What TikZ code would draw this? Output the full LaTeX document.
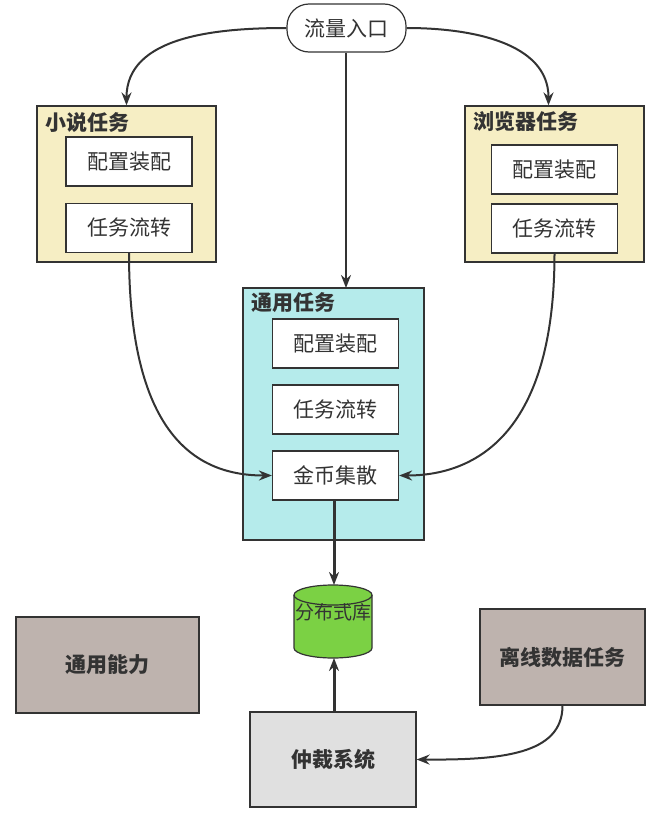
\documentclass[tikz,border=0pt]{standalone}
\usepackage{fontspec}
\setmainfont{Noto Sans CJK SC}
\usetikzlibrary{arrows.meta}
\definecolor{lc}{HTML}{333333}
\definecolor{ylw}{HTML}{F6EEC4}
\definecolor{cyn}{HTML}{B5EBEB}
\definecolor{grn}{HTML}{7BD144}
\definecolor{tau}{HTML}{BEB3AE}
\definecolor{lgr}{HTML}{E0E0E0}
\tikzset{
  box/.style={draw=lc, line width=1.2pt, inner sep=0pt, text=lc},
  inbox/.style={box, fill=white, minimum width=126pt, minimum height=49pt, font=\fontsize{21}{24}\selectfont},
  title/.style={anchor=west, inner sep=0pt, text=lc, font=\fontsize{21}{24}\selectfont\bfseries},
  bigbox/.style={box, font=\fontsize{21}{24}\selectfont\bfseries},
  conn/.style={draw=lc, line width=2pt, -{Stealth[length=13pt,width=10pt]}},
  thick conn/.style={draw=lc, line width=3pt, -{Stealth[length=13pt,width=10pt]}},
}
\begin{document}
\begin{tikzpicture}[x=1pt,y=-1pt]
\useasboundingbox (0,0) rectangle (670,819);
% entry
\node[box, rounded corners=22pt, fill=white, minimum width=119pt, minimum height=48pt, font=\fontsize{21}{24}\selectfont] (entry) at (346.5,28) {流量入口};
% novel task
\node[box, fill=ylw, minimum width=179pt, minimum height=156pt] (novel) at (126.5,184) {};
\node[title] (novelt) at (45,122) {小说任务};
\node[inbox] (ncfg) at (129,161.5) {配置装配};
\node[inbox] (nflow) at (129,228) {任务流转};
% browser task
\node[box, fill=ylw, minimum width=179pt, minimum height=156pt] (browser) at (554.5,184) {};
\node[title] (browsert) at (473,122) {浏览器任务};
\node[inbox] (bcfg) at (554.5,169.5) {配置装配};
\node[inbox] (bflow) at (554.5,228.5) {任务流转};
% general task
\node[box, fill=cyn, minimum width=181pt, minimum height=252pt] (general) at (333.5,414) {};
\node[title] (generalt) at (251,303) {通用任务};
\node[inbox] (gcfg) at (335.5,343.5) {配置装配};
\node[inbox] (gflow) at (335.5,409.5) {任务流转};
\node[inbox] (gcoin) at (335.5,475.5) {金币集散};
% database cylinder
\node[inner sep=0pt, minimum width=78pt, minimum height=73pt] (db) at (333,621.5) {};
\fill[grn] (294,595) -- (294,648) arc[start angle=180, end angle=360, x radius=39pt, y radius=10pt] -- (372,595) arc[start angle=0, end angle=180, x radius=39pt, y radius=10pt] -- cycle;
\draw[lc, line width=1.2pt] (294,595) -- (294,648) arc[start angle=180, end angle=360, x radius=39pt, y radius=10pt] -- (372,595) arc[start angle=0, end angle=180, x radius=39pt, y radius=10pt];
\draw[lc, line width=1.2pt] (294,595) arc[start angle=180, end angle=360, x radius=39pt, y radius=10pt];
\node[inner sep=0pt, text=lc, font=\fontsize{19}{22}\selectfont] (dbt) at (333,612) {分布式库};
% other boxes
\node[bigbox, fill=tau, minimum width=183pt, minimum height=96pt] (ability) at (107.5,665) {通用能力};
\node[bigbox, fill=tau, minimum width=165pt, minimum height=96pt] (offline) at (562.5,657) {离线数据任务};
\node[bigbox, fill=lgr, minimum width=166pt, minimum height=95pt] (arb) at (333,759.5) {仲裁系统};
% connectors
\draw[conn] (entry.west) to[out=180, in=90] (novel.north);
\draw[conn] (entry.east) to[out=0, in=90] ([xshift=-6pt]browser.north);
\draw[conn] (entry.south -| 346,0) -- (346,288);
\draw[conn] (nflow.south) .. controls (129,440) and (200,475.5) .. (gcoin.west);
\draw[conn] (bflow.south) .. controls (554.5,440) and (470,475.5) .. (gcoin.east);
\draw[thick conn] (gcoin.south -| 334,0) -- (334,585);
\draw[thick conn] (arb.north -| 334,0) -- (334,658);
\draw[conn] (offline.south) .. controls (562.5,755) and (500,760) .. (arb.east);
\end{tikzpicture}
\end{document}
